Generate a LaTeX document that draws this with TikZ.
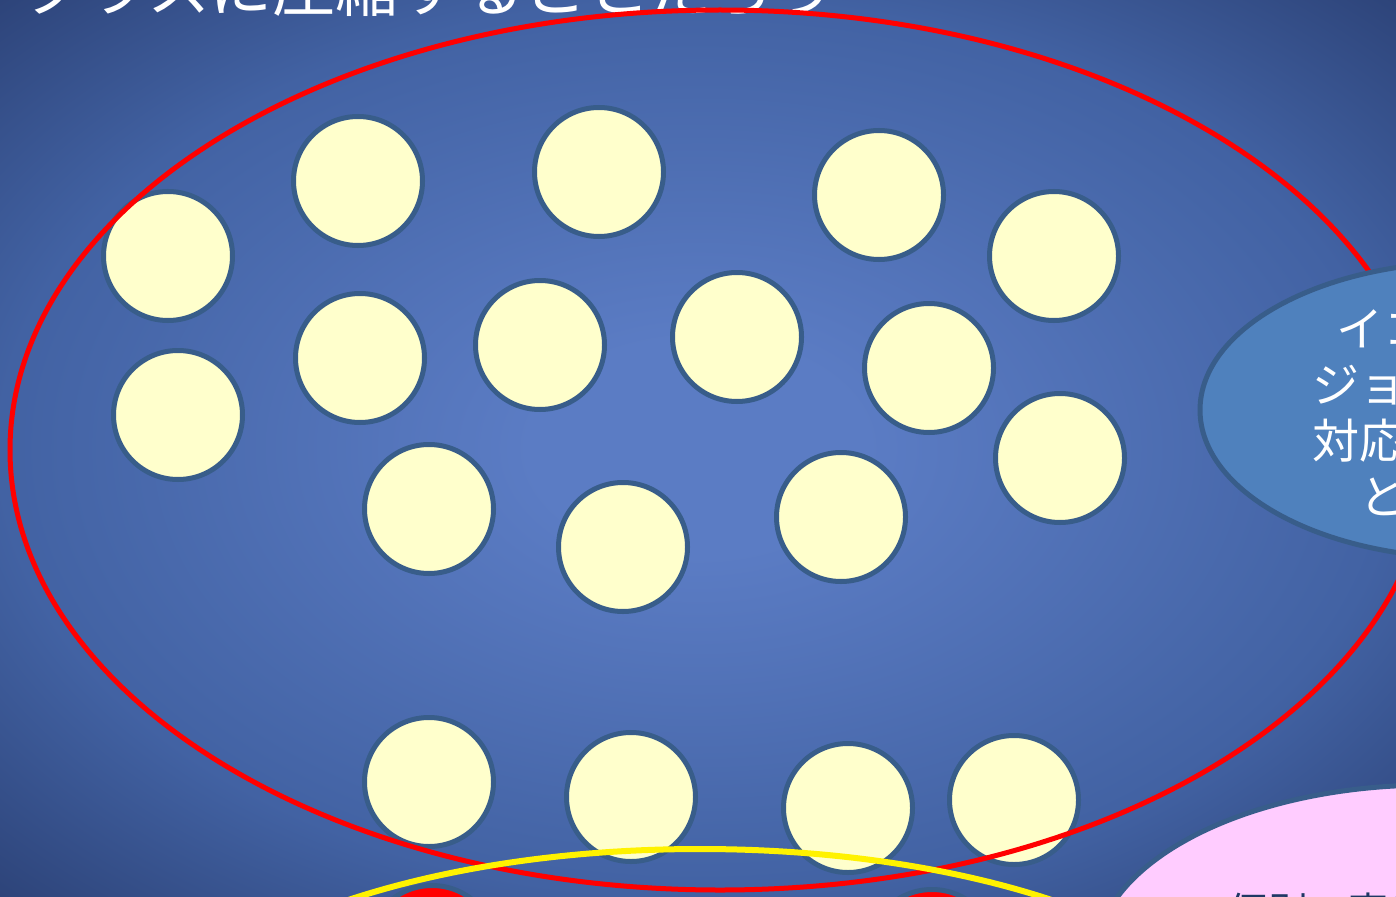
\documentclass[tikz,border=0pt]{standalone}
\usepackage{fontspec}
\newfontfamily\jp{Noto Sans CJK JP}
\definecolor{bgin}{HTML}{5B7CC4}
\definecolor{bgedge}{HTML}{4262A3}
\definecolor{bgcorner}{HTML}{2C4277}
\definecolor{cfill}{HTML}{FFFFCC}
\definecolor{cborder}{HTML}{385D8A}
\definecolor{blueell}{HTML}{4F81BD}
\definecolor{pinkell}{HTML}{FFCCFF}
\definecolor{darktext}{HTML}{1F3864}
\pgfdeclareradialshading{bgshade}{\pgfpoint{0bp}{0bp}}{color(0bp)=(bgin); color(6bp)=(bgin); color(25bp)=(bgedge); color(36bp)=(bgcorner); color(50bp)=(bgcorner)}
\tikzset{
  ball/.style={circle, draw=cborder, fill=cfill, line width=5pt, minimum size=129pt, inner sep=0pt},
  rball/.style={circle, draw=cborder, fill=red, line width=5pt, minimum size=129pt, inner sep=0pt},
  bigring/.style={line width=5pt},
  titletext/.style={text=white, font=\jp\fontsize{63}{72}\selectfont, inner sep=0pt},
  elltext/.style={text=white, font=\jp\fontsize{47}{56}\selectfont, align=center, inner sep=0pt},
  pinktext/.style={text=darktext, font=\jp\fontsize{40}{48}\selectfont, inner sep=0pt}
}
\begin{document}
\begin{tikzpicture}[x=1pt,y=-1pt]
\useasboundingbox (0,0) rectangle (1396,896);
\clip (0,0) rectangle (1396,896);
\shade[shading=bgshade] (0,0) rectangle (1396,896);

% title (clipped at the top)
\node[titletext, anchor=base west] (title) at (22,12) {クラスに圧縮することだろう};

% pale circles
\node[ball] (c1) at (168,256) {};
\node[ball] (c2) at (358,181) {};
\node[ball] (c3) at (599,172) {};
\node[ball] (c4) at (879,195) {};
\node[ball] (c5) at (1054,256) {};
\node[ball] (c6) at (178,415) {};
\node[ball] (c7) at (360,358) {};
\node[ball] (c8) at (540,345) {};
\node[ball] (c9) at (737,337) {};
\node[ball] (c10) at (929,368) {};
\node[ball] (c11) at (1060,458) {};
\node[ball] (c12) at (429,509) {};
\node[ball] (c13) at (623,547) {};
\node[ball] (c14) at (841,517) {};
\node[ball] (c15) at (429,782) {};
\node[ball] (c16) at (631,797) {};
\node[ball] (c17) at (848,808) {};
\node[ball] (c18) at (1014,800) {};

% red ring
\draw[bigring, red] (720,450) ellipse [x radius=710, y radius=440];
% yellow ring
\draw[bigring, yellow, line width=6pt] (700,1079) ellipse [x radius=560, y radius=230];

% red balls at the bottom
\node[rball] (r1) at (432,950) {};
\node[rball] (r2) at (932,954) {};

% blue ellipse with text
\draw[fill=blueell, draw=cborder, line width=5pt] (1470,410) ellipse [x radius=270, y radius=148];
\node[elltext] (btext) at (1477,413) {イコールとは\\ジョイントする\\対応付けをする\\ということ};

% pink ellipse with text
\draw[fill=pinkell, draw=cborder, line width=5pt] (1430,960) ellipse [x radius=335, y radius=175];
\node[pinktext, anchor=base west] (ptext) at (1228,926) {個別の事例};
\end{tikzpicture}
\end{document}
